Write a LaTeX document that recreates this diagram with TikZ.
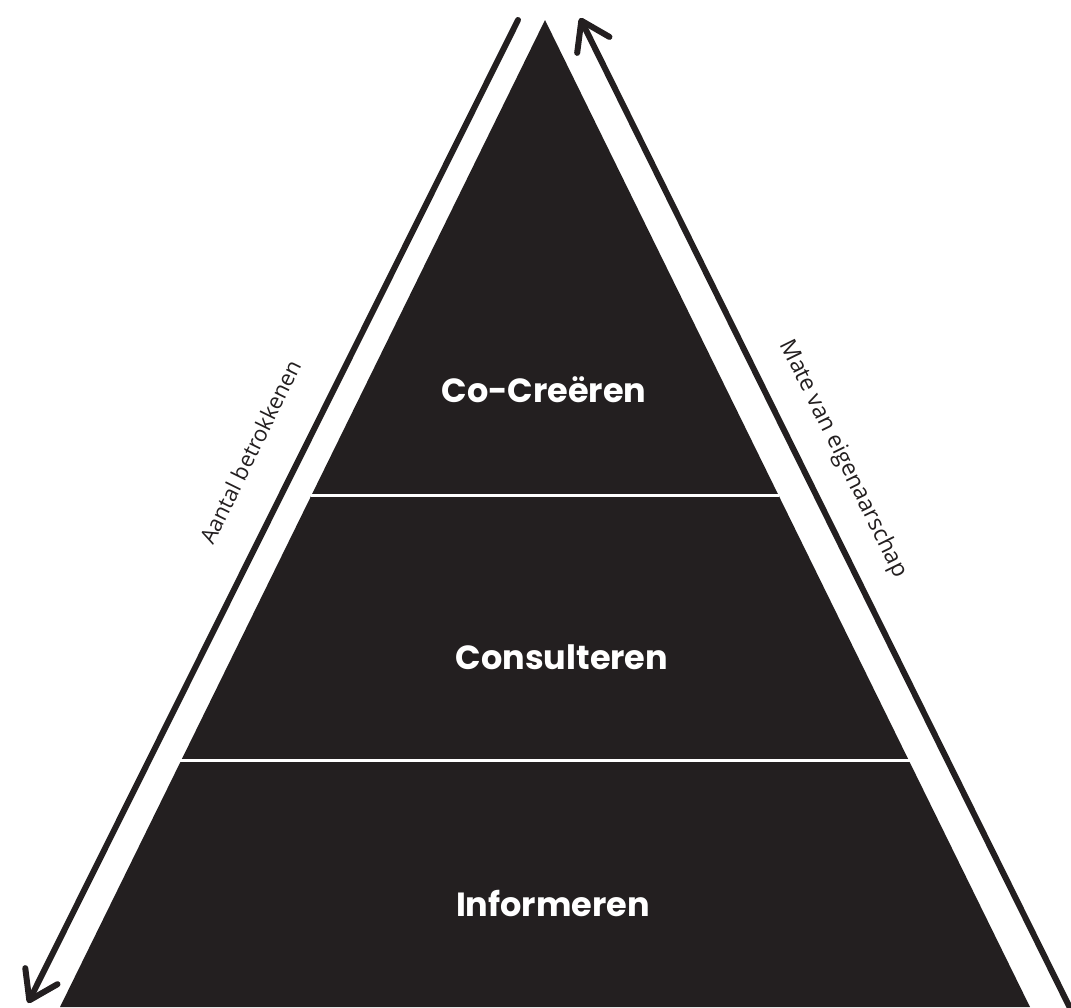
\documentclass[tikz,border=0pt]{standalone}
\usepackage{fontspec}
\setmainfont{Open Sans}
\newfontfamily\boldlab{Poppins}
\usetikzlibrary{arrows.meta}
\definecolor{ink}{HTML}{231F20}
\begin{document}
\begin{tikzpicture}[x=1pt,y=-1pt,
  axisline/.style={draw=ink,line width=6pt,line cap=round},
  tipstyle/.style={-{Straight Barb[length=27pt,width=36pt,round,line width=6pt]}},
  levellabel/.style={text=white,font=\boldlab\bfseries\fontsize{33.5}{36}\selectfont,inner sep=0pt},
  sidelabel/.style={text=ink,font=\fontsize{22}{24}\selectfont,inner sep=0pt}]
\useasboundingbox (0,0) rectangle (1071,1007);
\clip (0,0) rectangle (1071,1007);
\fill[white] (0,0) rectangle (1071,1007);
% pyramid
\coordinate (apex) at (545,20);
\coordinate (bl) at (60,1007);
\coordinate (br) at (1030,1007);
\fill[ink] (apex) -- (br) -- (bl) -- cycle;
% dividers
\draw[white,line width=3pt] (311,495) -- (779,495);
\draw[white,line width=3pt] (180,760) -- (910,760);
% level labels
\node[levellabel] (cocreeren) at (544,390) {Co-Creëren};
\node[levellabel] (consulteren) at (562,657) {Consulteren};
\node[levellabel] (informeren) at (553,903) {Informeren};
% axes
\coordinate (ltop) at (518,20);
\coordinate (lbot) at (28,1003);
\coordinate (rbot) at (1072,1012);
\coordinate (rtop) at (580,18);
\draw[axisline,tipstyle] (ltop) -- (lbot);
\draw[axisline,tipstyle] (rbot) -- (rtop);
% side labels
\node[sidelabel,rotate=63.8] (aantal) at (250,452) {Aantal betrokkenen};
\node[sidelabel,font=\fontsize{23}{25}\selectfont,rotate=-63.8] (mate) at (843,459) {Mate van eigenaarschap};
\end{tikzpicture}
\end{document}
